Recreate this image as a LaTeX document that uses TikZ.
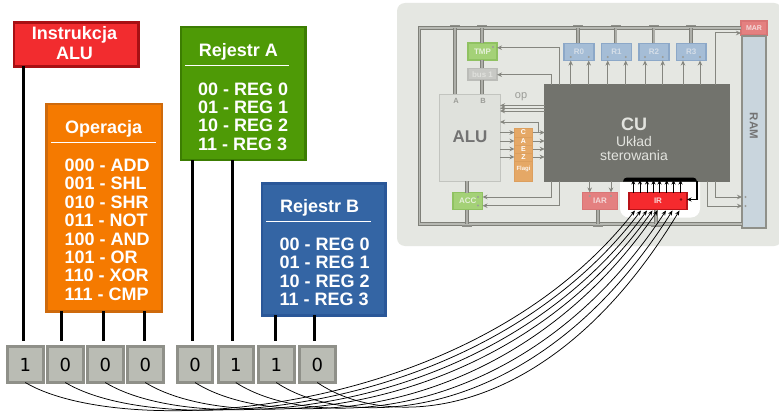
\documentclass[tikz,border=0pt]{standalone}
\usepackage{fontspec}
\setmainfont{Liberation Sans}
\newfontfamily\djv{DejaVu Sans}
\usetikzlibrary{arrows.meta}
\definecolor{panel}{HTML}{E5E7E2}
\definecolor{wire}{HTML}{85867F}
\definecolor{busc}{HTML}{7F8079}
\definecolor{cugray}{HTML}{72736D}
\definecolor{cutext}{HTML}{E2E3DE}
\definecolor{faint}{HTML}{9B9C97}
\definecolor{bitb}{HTML}{8F9089}
\definecolor{bitf}{HTML}{BABCB4}
\definecolor{regG}{HTML}{A4D177}
\definecolor{regGd}{HTML}{90C262}
\definecolor{regGt}{HTML}{E6F0DA}
\definecolor{regB}{HTML}{A5BDD6}
\definecolor{regBd}{HTML}{8CA8C8}
\definecolor{regBt}{HTML}{D5DEE8}
\definecolor{regR}{HTML}{E48080}
\definecolor{regRd}{HTML}{D97575}
\definecolor{regRt}{HTML}{F4DADA}
\definecolor{HTMLram}{HTML}{C9D5DD}
\definecolor{HTMLalu}{HTML}{DFE1DC}
\definecolor{HTMLalub}{HTML}{C2C4BF}
\definecolor{HTMLbus}{HTML}{C8C9C5}
\definecolor{HTMLbusb}{HTML}{BBBCB8}
\definecolor{HTMLbust}{HTML}{E0E1DD}
\definecolor{HTMLflg}{HTML}{E5A866}
\definecolor{HTMLflgb}{HTML}{DC9F5E}
\definecolor{HTMLir}{HTML}{F52A2E}
\definecolor{HTMLird}{HTML}{B81218}
\definecolor{HTMLirt}{HTML}{F8D5D5}
\definecolor{HTMLrf}{HTML}{F22C2F}
\definecolor{HTMLrd}{HTML}{A81014}
\definecolor{HTMLof}{HTML}{F57A00}
\definecolor{HTMLod}{HTML}{CE6A0C}
\definecolor{HTMLgf}{HTML}{4E9A06}
\definecolor{HTMLgd}{HTML}{3C7D02}
\definecolor{HTMLbf}{HTML}{3465A4}
\definecolor{HTMLbd}{HTML}{2A5798}
\tikzset{
  bx/.style={draw,inner sep=0pt,outer sep=0pt,align=center},
  bigbox/.style={bx,line width=2.6pt,text=white},
  ttl/.style={font=\bfseries\fontsize{18}{20}\selectfont,text=white,inner sep=0pt},
  row/.style={font=\bfseries\fontsize{18}{20}\selectfont,text=white,inner sep=0pt,anchor=west},
  uline/.style={draw=white,line width=1.5pt},
  feed/.style={draw=black,line width=3pt},
  bitbox/.style={bx,draw=bitb,fill=bitf,line width=3pt,font=\djv\fontsize{18}{20}\selectfont,text=black},
  wirea/.style={draw=wire,line width=1pt,-{Stealth[length=5pt,width=4.5pt]}},
  busl/.style={draw=busc,line width=.8pt,double=panel!55!busc,double distance=1.5pt},
  stub/.style={draw=busc,line width=.9pt,double=panel!45!busc,double distance=2pt},
  buscap/.style={fill=busc!85!panel,inner sep=0pt,outer sep=0pt,minimum width=10pt,minimum height=1.8pt},
  reg/.style={bx,line width=1.2pt,font=\bfseries\fontsize{8}{9}\selectfont},
  regg/.style={reg,draw=regGd,fill=regG,text=regGt},
  regb/.style={reg,draw=regBd,fill=regB,text=regBt},
  regr/.style={reg,draw=regRd,fill=regR,text=regRt},
  dotm/.style={circle,fill=faint,inner sep=0pt,minimum size=2.2pt},
  curve/.style={draw=black,line width=.75pt,-{Stealth[length=5pt,width=4pt]}},
  irarrow/.style={draw=black,line width=1pt,-{Stealth[length=4.5pt,width=4pt]}},
  gt/.style={text=faint,inner sep=0pt}
}
\newcommand{\bxn}[7][]{% name x1 y1 x2 y2 style; text follows
  \pgfmathsetmacro{\cxx}{(#3+#5)/2}\pgfmathsetmacro{\cyy}{(#4+#6)/2}
  \pgfmathsetmacro{\wdd}{#5-#3}\pgfmathsetmacro{\htt}{#6-#4}
  \node[#7,minimum width=\wdd pt,minimum height=\htt pt,#1] (#2) at (\cxx,\cyy)}
\begin{document}
\begin{tikzpicture}[x=1pt,y=-1pt]
\useasboundingbox (0,0) rectangle (779,412);
\clip (0,0) rectangle (779,412);
\fill[white] (0,0) rectangle (779,412);
% panel
\node[fill=panel,rounded corners=8pt,minimum width=385pt,minimum height=243pt,inner sep=0pt,outer sep=0pt] (panelbg) at (589.5,124.5) {};
\node[fill=white,rounded corners=9pt,minimum width=80pt,minimum height=45pt,inner sep=0pt,outer sep=0pt] (hilite) at (660,195) {};
% registers etc
\bxn{mar}{741}{21}{767}{35}{reg,draw=regRd,fill=regR,text=regRt,font=\bfseries\fontsize{7}{8}\selectfont}{MAR};
\bxn{ram}{742}{36}{766}{228}{reg,draw=bitb,fill=HTMLram}{};
\node[rotate=-90,text=gray!90!black,font=\bfseries\fontsize{11.5}{12}\selectfont,inner sep=0pt] (ramt) at (753.7,126) {RAM};
\coordinate (busne) at (741,28);
\coordinate (busnw) at (419.5,28);
\coordinate (bussw) at (419.5,224);
\coordinate (busse) at (742,224);
\draw[busl] (busne) -- (busnw) -- (bussw) -- (busse);
\bxn{alu}{439.5}{94}{500}{181}{bx,draw=HTMLalub,fill=HTMLalu,line width=1pt}{};
\bxn{tmp}{468}{43}{497}{60}{regg}{TMP};
\bxn{bus1}{468}{68.5}{497}{80}{reg,draw=HTMLbusb,fill=HTMLbus,text=HTMLbust}{bus 1};
\bxn{r0}{564}{43.5}{594}{60.5}{regb}{R0};
\bxn{r1}{601.5}{43.5}{631.5}{60.5}{regb}{R1};
\bxn{r2}{639}{43.5}{669}{60.5}{regb}{R2};
\bxn{r3}{676.5}{43.5}{706}{60.5}{regb}{R3};
\bxn{acc}{453}{192.5}{482.5}{209.5}{regg}{ACC};
\bxn{iar}{582.5}{192.5}{617.5}{209.5}{regr}{IAR};
\bxn{cu}{544.7}{84.5}{729.7}{181}{bx,draw=cugray,fill=cugray,line width=.5pt}{};
\node[text=cutext,font=\bfseries\fontsize{18}{20}\selectfont,inner sep=0pt] (cut) at (634,124) {CU};
\node[text=cutext,font=\fontsize{14}{16}\selectfont,inner sep=0pt] (cuu) at (634,141.5) {Układ};
\node[text=cutext,font=\fontsize{14}{16}\selectfont,inner sep=0pt] (cus) at (634,155.5) {sterowania};
\node[text=gray!90!black,font=\bfseries\fontsize{17}{19}\selectfont,inner sep=0pt] (alut) at (470,137) {ALU};
\node[gt,font=\bfseries\fontsize{7.5}{8}\selectfont] (alua) at (456,101) {A};
\node[gt,font=\bfseries\fontsize{7.5}{8}\selectfont] (alub) at (483,101) {B};
\node[gt,font=\fontsize{11}{12}\selectfont] (opt) at (521,97) {op};
% stubs
\foreach \n/\x in {sa/455,sb/482,s0/578,s1/615.5,s2/653.5,s3/691}{
  \coordinate (\n) at (\x,28);
  \node[buscap] (\n cap) at (\x,25.5) {};
}
\draw[stub] (sa) -- (sa |- alu.north);
\draw[stub] (sb) -- (sb |- tmp.north);
\draw[stub] (sb |- tmp.south) -- (sb |- bus1.north);
\draw[stub] (sb |- bus1.south) -- (sb |- alu.north);
\foreach \n in {0,1,2,3}{\draw[stub] (s\n) -- (s\n |- r\n.north);}
\coordinate (sc) at (466.7,224); \node[buscap] (sccap) at (466.7,226) {};
\draw[stub] (sc |- acc.north) -- (sc |- alu.south);
\draw[stub] (sc |- acc.south) -- (sc);
\coordinate (sd) at (597.7,224); \node[buscap] (sdcap) at (597.7,226) {};
\draw[stub] (sd |- iar.south) -- (sd);
\coordinate (se) at (656,224); \node[buscap] (secap) at (656,226) {};
% control wires
\coordinate (ta) at (559,47.7); \coordinate (tb) at (551,74.7);
\draw[wirea] (ta |- cu.north) -- (ta) -- (ta -| tmp.east);
\draw[wirea] (tb |- cu.north) -- (tb) -- (tb -| bus1.east);
\foreach \n/\a/\b in {r0/570.7/588.7,r1/607.7/625.7,r2/645/662.7,r3/683/700}{
  \coordinate (\n a) at (\a,57); \coordinate (\n b) at (\b,57);
  \draw[wirea] (\n a |- cu.north) -- (\n a |- \n.south);
  \draw[wirea] (\n b |- cu.north) -- (\n b |- \n.south);
  \node[dotm] (\n da) at (\n a) {};
  \node[dotm] (\n db) at (\n b) {};
}
\coordinate (ma) at (715.7,33);
\draw[wirea] (ma |- cu.north) -- (ma) -- (ma -| mar.west);
\foreach \k/\y in {1/105.5,2/108.3,3/111}{
  \coordinate (opw\k) at (540,\y);
  \draw[wirea] (opw\k -| cu.west) -- (opw\k -| alu.east);
}
\coordinate (ca) at (538,122); \coordinate (cb) at (538,132.5);
\draw[wirea] (cb) -- (ca) -- (ca -| alu.east);
% flags
\bxn{flg}{514.5}{128.5}{532.5}{181}{bx,draw=HTMLflgb,fill=HTMLflg,line width=.8pt}{};
\foreach \n/\y/\t/\ly in {c/132.5/C/136.8,a/141/A/145,e/149/E/153,z/157/Z/161.3}{
  \coordinate (f\n) at (523.5,\y);
  \coordinate (g\n) at (523.5,\ly);
  \node[text=white,font=\bfseries\fontsize{7}{8}\selectfont,inner sep=0pt] (fl\n) at (f\n) {\t};
  \draw[HTMLflgb,line width=.6pt] (g\n -| flg.west) -- (g\n -| flg.east);
  \draw[wirea] (f\n -| alu.east) -- (f\n -| flg.west);
  \draw[wirea] (f\n -| flg.east) -- (f\n -| cu.west);
}
\node[text=white!90!HTMLflg,font=\bfseries\fontsize{6}{7}\selectfont,inner sep=0pt] (flgt) at (523.5,169) {Flagi};
% lower wires
\coordinate (l1) at (551,197); \coordinate (l2) at (559,205.7);
\draw[wirea] (l1 |- cu.south) -- (l1) -- (l1 -| acc.east);
\draw[wirea] (l2 |- cu.south) -- (l2) -- (l2 -| acc.east);
\coordinate (i1) at (589.7,196); \coordinate (i2) at (611,196);
\draw[wirea] (i1 |- cu.south) -- (i1 |- iar.north);
\draw[wirea] (i2 |- cu.south) -- (i2 |- iar.north);
\node[dotm] (d1) at (i1) {}; \node[dotm] (d2) at (i2) {};
\coordinate (r1w) at (715.3,197); \coordinate (r2w) at (707.7,206);
\draw[wirea] (r1w |- cu.south) -- (r1w) -- (r1w -| ram.west);
\draw[wirea] (r2w |- cu.south) -- (r2w) -- (r2w -| ram.west);
\node[dotm] (d3) at (745.5,197) {}; \node[dotm] (d4) at (745.5,206) {};
\node[dotm] (d5) at (493,47) {}; \node[dotm] (d6) at (478,197) {}; \node[dotm] (d7) at (478,205.5) {};
% IR
\bxn{ir}{629}{192.5}{687}{209.5}{bx,draw=HTMLird,fill=HTMLir,line width=1.2pt,text=HTMLirt,font=\bfseries\fontsize{8}{9}\selectfont}{IR};
\draw[stub] (se |- ir.south) -- (se);
\node[circle,fill=HTMLird!70!black,inner sep=0pt,minimum size=2.6pt] (d8) at (681,199.5) {};
\fill[black] (623,181.5) arc[start angle=180,end angle=90,radius=4pt] -- (693,177.5) arc[start angle=90,end angle=0,radius=4pt] -- cycle;
\coordinate (fb) at (697,181);
\draw[irarrow,line width=1.2pt] (fb) -- (fb |- d8) -- (d8 -| ir.east);
\foreach \i/\x in {0/633.3,1/640,2/647,3/653.5,4/659.5,5/666.7,6/673.5,7/680.5}{
  \coordinate (iu\i) at (\x,180);
  \draw[irarrow] (iu\i |- ir.north) -- (iu\i);
}
% left boxes
\bxn{alubox}{14}{22.3}{138.7}{66.4}{bigbox,draw=HTMLrd,fill=HTMLrf}{};
\node[ttl] (t1) at (74.5,35) {Instrukcja};
\node[ttl] (t2) at (74.5,53) {ALU};
\bxn{opbox}{46.6}{104}{162}{311.4}{bigbox,draw=HTMLod,fill=HTMLof}{};
\node[ttl] (t3) at (103.7,129) {Operacja};
\draw[uline] (51,142.7) -- (155.7,142.7);
\foreach \n/\y/\t in {0/165.7/000 - ADD,1/183.7/001 - SHL,2/202/010 - SHR,3/220.7/011 - NOT,4/239/100 - AND,5/257/101 - OR,6/275/110 - XOR,7/294/111 - CMP}{
  \node[row] (op\n) at (64.5,\y) {\t};
}
\bxn{abox}{180.8}{27}{305.4}{160}{bigbox,draw=HTMLgd,fill=HTMLgf}{};
\node[ttl] (t4) at (238.3,52) {Rejestr A};
\draw[uline] (185,65.3) -- (289.3,65.3);
\foreach \n/\y/\t in {0/89/00 - REG 0,1/107/01 - REG 1,2/125/10 - REG 2,3/144/11 - REG 3}{
  \node[row] (ra\n) at (198,\y) {\t};
}
\bxn{bbox}{262}{183.3}{385.4}{315.4}{bigbox,draw=HTMLbd,fill=HTMLbf}{};
\node[ttl] (t5) at (319.6,208) {Rejestr B};
\draw[uline] (266,221.3) -- (370.7,221.3);
\foreach \n/\y/\t in {0/244/00 - REG 0,1/262.3/01 - REG 1,2/281/10 - REG 2,3/299/11 - REG 3}{
  \node[row] (rb\n) at (279.5,\y) {\t};
}
% bits
\foreach \n/\a/\b/\t in {0/7.5/43/1,1/47.5/83/0,2/87.5/123/0,3/127.5/163/0,4/177.5/212.5/0,5/218/253.5/1,6/258.5/294/1,7/299.5/335/0}{
  \bxn{b\n}{\a}{346.5}{\b}{382.5}{bitbox}{\t};
}
% feeder lines
\coordinate (v0) at (23.3,0); \coordinate (v1) at (61.7,0); \coordinate (v2) at (103.3,0); \coordinate (v3) at (144,0);
\coordinate (v4) at (192.3,0); \coordinate (v5) at (232.3,0); \coordinate (v6) at (275.7,0); \coordinate (v7) at (314.7,0);
\coordinate (bt) at (0,341);
\draw[feed] (v0 |- alubox.south) -- (v0 |- bt);
\draw[feed] (v1 |- opbox.south) -- (v1 |- bt);
\draw[feed] (v2 |- opbox.south) -- (v2 |- bt);
\draw[feed] (v3 |- opbox.south) -- (v3 |- bt);
\draw[feed] (v4 |- abox.south) -- (v4 |- bt);
\draw[feed] (v5 |- abox.south) -- (v5 |- bt);
\draw[feed] (v6 |- bbox.south) -- (v6 |- bt);
\draw[feed] (v7 |- bbox.south) -- (v7 |- bt);
% curves to IR
\foreach \i/\ex in {0/635,1/641,2/647,3/652.5,4/657.5,5/666,6/672.5,7/679.5}{
  \pgfmathsetmacro{\ax}{98-28*\i/7}
  \pgfmathsetmacro{\ay}{58-10*\i/7}
  \pgfmathsetmacro{\bx}{-165+35.5*\i/7}
  \pgfmathsetmacro{\by}{210+4.5*\i/7}
  \coordinate (e\i) at (\ex,210.5);
  \draw[curve] (b\i.south) .. controls +(\ax,\ay) and ([shift={(\bx,\by)}]e\i) .. (e\i);
}
\end{tikzpicture}
\end{document}
